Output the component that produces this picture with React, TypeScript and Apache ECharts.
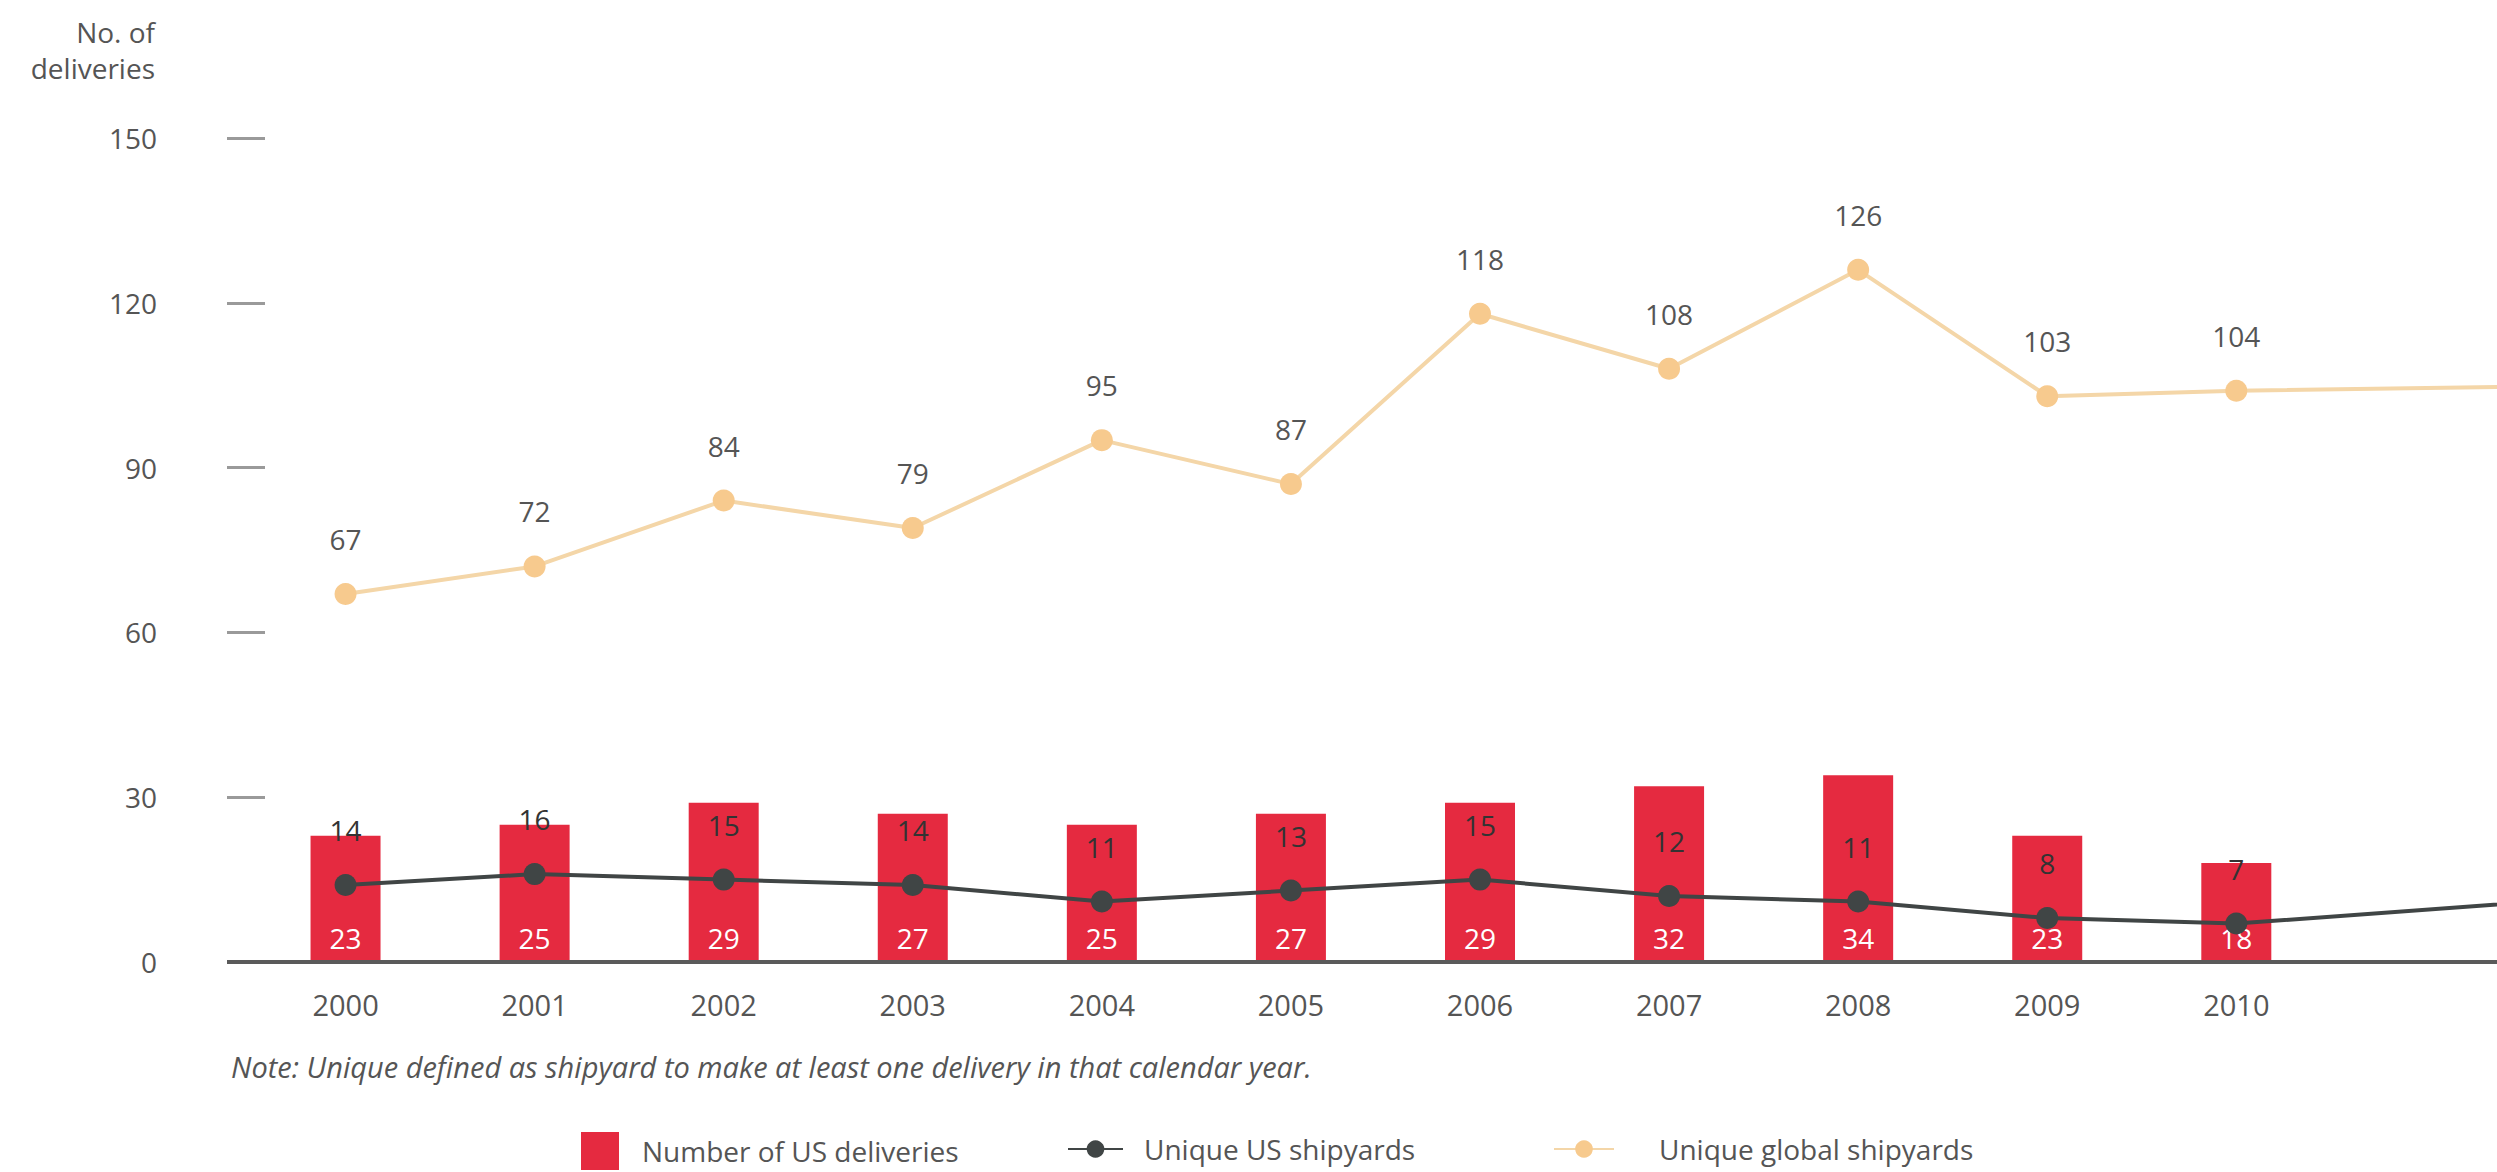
import React, { useEffect, useRef } from "react";
import * as echarts from "echarts";

// ---- data ----
const years = ["2000", "2001", "2002", "2003", "2004", "2005", "2006", "2007", "2008", "2009", "2010", "2011", "2012"];
const visibleYearCount = 11; // labelled years; the chart is cropped beyond 2010
const usDeliveries = [23, 25, 29, 27, 25, 27, 29, 32, 34, 23, 18, null, null];
const usShipyards = [14, 16, 15, 14, 11, 13, 15, 12, 11, 8, 7, null, 12];
const globalShipyards = [67, 72, 84, 79, 95, 87, 118, 108, 126, 103, 104, null, 105];
const yMin = 0;
const yMax = 150;
const yInterval = 30;

const seriesNames = ["Number of US deliveries", "Unique US shipyards", "Unique global shipyards"];
const yAxisTitle = "No. of\ndeliveries";
const noteText = "Note: Unique defined as shipyard to make at least one delivery in that calendar year.";

const FONT = "'Open Sans', 'Noto Sans', sans-serif";
const RED = "#E52A40";
const DARK = "#404545";
const PEACH = "#F7CA8E";
const PEACH_LINE = "#F4D6A8";
const TEXT = "#555555";

const VIEW_W = 2497;
const VIEW_H = 1172;
const CHART_W = 2760; // wider than the view: the reference is cropped on the right
const GRID_LEFT = 251;

function lineData(values: (number | null)[]) {
  return values.map((v, i) =>
    i >= visibleYearCount && v !== null ? { value: v, symbol: "none", label: { show: false } } : v
  );
}

export default function App() {
  const ref = useRef<HTMLDivElement>(null);

  useEffect(() => {
    document.body.style.margin = "0";
    document.body.style.overflow = "hidden";
    if (!ref.current) return;
    const chart = echarts.init(ref.current, null, { renderer: "svg" });

    const legendText = (pad: number) => ({
      color: TEXT,
      fontSize: 28,
      fontFamily: FONT,
      lineHeight: 34,
      padding: [0, 0, 0, pad],
    });

    chart.setOption({
      animation: false,
      backgroundColor: "#ffffff",
      grid: { left: GRID_LEFT, right: 51, top: 138, bottom: 210 },
      xAxis: {
        type: "category",
        data: years,
        boundaryGap: true,
        axisLine: { show: true, lineStyle: { color: "#5a5a5a", width: 4 } },
        axisTick: { show: false },
        axisLabel: {
          interval: (i: number) => i < visibleYearCount,
          color: TEXT,
          fontSize: 29,
          fontFamily: FONT,
          margin: 28,
        },
        z: 5,
      },
      yAxis: {
        type: "value",
        min: yMin,
        max: yMax,
        interval: yInterval,
        offset: 24,
        axisLine: { show: false },
        axisTick: { show: true, inside: true, length: 38, lineStyle: { color: "#9a9a9a", width: 3 } },
        axisLabel: { color: TEXT, fontSize: 28, fontFamily: FONT, margin: 70 },
        splitLine: { show: false },
      },
      legend: [
        {
          left: 576,
          top: 1127,
          itemWidth: 38,
          itemHeight: 38,
          data: [{ name: seriesNames[0], icon: "rect" }],
          textStyle: legendText(18),
          selectedMode: false,
        },
        {
          left: 1062,
          top: 1127,
          itemWidth: 55,
          itemHeight: 22,
          data: [seriesNames[1]],
          textStyle: legendText(16),
          selectedMode: false,
        },
        {
          left: 1548,
          top: 1127,
          itemWidth: 60,
          itemHeight: 22,
          data: [seriesNames[2]],
          textStyle: legendText(40),
          selectedMode: false,
        },
      ],
      graphic: [
        {
          type: "text",
          id: "ytitle",
          x: 155,
          y: 50,
          style: {
            text: yAxisTitle,
            align: "right",
            verticalAlign: "middle",
            fontSize: 28,
            lineHeight: 36,
            fontFamily: FONT,
            fill: TEXT,
          },
        },
        {
          type: "text",
          id: "note",
          x: 231,
          y: 1066,
          style: {
            text: noteText,
            verticalAlign: "middle",
            fontSize: 29,
            fontStyle: "italic",
            fontFamily: FONT,
            fill: TEXT,
          },
        },
      ],
      series: [
        {
          name: seriesNames[0],
          type: "bar",
          data: usDeliveries,
          barWidth: 70,
          itemStyle: { color: RED },
          label: {
            show: true,
            position: "insideBottom",
            distance: 10,
            color: "#ffffff",
            fontSize: 28,
            fontFamily: FONT,
          },
          z: 1,
        },
        {
          name: seriesNames[1],
          type: "line",
          data: lineData(usShipyards),
          connectNulls: true,
          symbol: "circle",
          symbolSize: 22,
          lineStyle: { color: DARK, width: 4 },
          itemStyle: { color: DARK },
          label: {
            show: true,
            position: "top",
            distance: 30,
            color: "#333333",
            fontSize: 28,
            fontFamily: FONT,
          },
          z: 3,
        },
        {
          name: seriesNames[2],
          type: "line",
          data: lineData(globalShipyards),
          connectNulls: true,
          symbol: "circle",
          symbolSize: 22,
          lineStyle: { color: PEACH_LINE, width: 4 },
          itemStyle: { color: PEACH },
          label: {
            show: true,
            position: "top",
            distance: 30,
            color: TEXT,
            fontSize: 28,
            fontFamily: FONT,
          },
          z: 3,
        },
      ],
    });

    // extend the baseline to the left, under the y-axis ticks
    const y0 = chart.convertToPixel({ yAxisIndex: 0 }, yMin) as number;
    chart.setOption({
      graphic: [
        {
          type: "line",
          id: "baseExt",
          z: 10,
          shape: { x1: GRID_LEFT - 24, y1: y0, x2: GRID_LEFT + 2, y2: y0 },
          style: { stroke: "#5a5a5a", lineWidth: 4 },
        },
      ],
    });

    return () => chart.dispose();
  }, []);

  return (
    <div style={{ width: VIEW_W, height: VIEW_H, overflow: "hidden", position: "relative" }}>
      <div ref={ref} style={{ width: CHART_W, height: VIEW_H }} />
    </div>
  );
}
